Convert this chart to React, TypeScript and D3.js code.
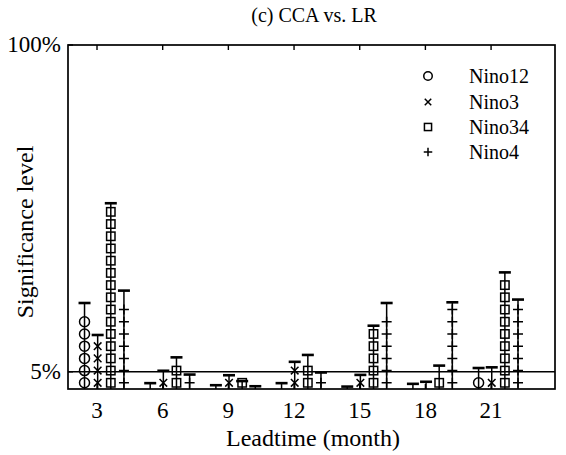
import React from "react";
import * as d3 from "d3";

const leadtimes = [3, 6, 9, 12, 15, 18, 21];
const seriesNames = ["Nino12", "Nino3", "Nino34", "Nino4"];
const seriesShapes = ["circle", "cross", "square", "plus"];
// top of each bar (significance level, %)
const nino12Top = [25, 1.7, 1.1, 1.7, 0.7, 1.5, 6.1];
const nino3Top = [15.7, 5.3, 4.0, 7.9, 4.1, 2.1, 6.3];
const nino34Top = [54, 9.2, 2.3, 9.9, 18.4, 6.8, 33.9];
const nino4Top = [28.6, 4.2, 0.8, 4.8, 25, 25.2, 26];
// number of stacked markers on each bar
const nino12Count = [6, 0, 0, 0, 0, 0, 1];
const nino3Count = [4, 1, 1, 2, 1, 0, 1];
const nino34Count = [15, 2, 1, 2, 5, 1, 9];
const nino4Count = [7, 1, 0, 1, 6, 7, 7];
const seriesOffsets = [-0.57, 0.03, 0.63, 1.23];
const markerStart = 1.8;
const markerStep = 3.55;
const refLevel = 5;
const yTickValues = [5, 100];
const xDomain = [1.675, 23.92];

const tops = [nino12Top, nino3Top, nino34Top, nino4Top];
const counts = [nino12Count, nino3Count, nino34Count, nino4Count];

const W = 566, H = 455;
const L = 68, R = 555, T = 45, B = 389;
const FONT = '"Liberation Serif", "Times New Roman", Tinos, serif';

function Marker({ shape, x, y, sc = 1 }: { shape: string; x: number; y: number; sc?: number }) {
  const sw = 1.5;
  if (shape === "circle") return <circle cx={x} cy={y} r={5 * sc} fill="none" stroke="#000" strokeWidth={sw} />;
  if (shape === "square") {
    const h = 4.2 * sc;
    return <rect x={x - h} y={y - h} width={2 * h} height={2 * h} fill="none" stroke="#000" strokeWidth={sw} />;
  }
  if (shape === "cross") {
    const s = 3.8 * sc;
    return <path d={`M${x - s},${y - s}L${x + s},${y + s}M${x - s},${y + s}L${x + s},${y - s}`} stroke="#000" strokeWidth={sw} />;
  }
  const s = 5 * sc;
  return <path d={`M${x - s},${y}L${x + s},${y}M${x},${y - s}L${x},${y + s}`} stroke="#000" strokeWidth={sw} />;
}

function Txt(props: any) {
  const { children, size, ...rest } = props;
  return (
    <text {...rest} fontFamily={FONT} style={{ fontFamily: FONT, fontSize: `${size}px` }}>
      {children}
    </text>
  );
}

export default function App() {
  const x = d3.scaleLinear().domain(xDomain).range([L, R]);
  const y = d3.scaleLinear().domain([0, 100]).range([B, T]);

  const bars: any[] = [];
  tops.forEach((arr, si) => {
    arr.forEach((v, li) => {
      const cx = x(leadtimes[li] + seriesOffsets[si]);
      const marks = d3.range(counts[si][li]).map((k) => y(markerStart + k * markerStep));
      bars.push(
        <g key={`${si}-${li}`}>
          <line x1={cx} x2={cx} y1={y(0)} y2={y(v)} stroke="#000" strokeWidth={1.5} />
          <line x1={cx - 6} x2={cx + 6} y1={y(v)} y2={y(v)} stroke="#000" strokeWidth={2.6} />
          {marks.map((my, k) => (
            <Marker key={k} shape={seriesShapes[si]} x={cx} y={my} />
          ))}
        </g>
      );
    });
  });

  const legendY = [76, 102, 127, 152];

  return (
    <div style={{ position: "absolute", left: 0, top: 0, width: W, height: H, fontFamily: FONT, background: "#fff" }}>
      <svg width={W} height={H} style={{ display: "block", fontFamily: FONT }} fontFamily={FONT}>
        <rect x={0} y={0} width={W} height={H} fill="#fff" />
        <Txt x={314} y={22} textAnchor="middle" size={20}>(c) CCA vs. LR</Txt>
        {bars}
        <line x1={L} x2={R} y1={y(refLevel)} y2={y(refLevel)} stroke="#000" strokeWidth={1.6} />
        <rect x={L} y={T} width={R - L} height={B - T} fill="none" stroke="#000" strokeWidth={1.7} />
        {leadtimes.map((t) => (
          <g key={t}>
            <line x1={x(t)} x2={x(t)} y1={T} y2={T + 5} stroke="#000" strokeWidth={1.4} />
            <line x1={x(t)} x2={x(t)} y1={B} y2={B - 5} stroke="#000" strokeWidth={1.4} />
            <Txt x={x(t)} y={418} textAnchor="middle" size={23}>{t}</Txt>
          </g>
        ))}
        {yTickValues.map((v) => (
          <g key={v}>
            <line x1={L} x2={L + 5} y1={y(v)} y2={y(v)} stroke="#000" strokeWidth={1.4} />
            <Txt x={L - 7} y={y(v) + 7} textAnchor="end" size={23}>{`${v}%`}</Txt>
          </g>
        ))}
        <Txt x={313} y={446} textAnchor="middle" size={24}>Leadtime (month)</Txt>
        <Txt transform={`translate(33,${(T + B) / 2 + 15}) rotate(-90)`} textAnchor="middle" size={24}>Significance level</Txt>
        {seriesNames.map((n, i) => (
          <g key={n}>
            <Marker shape={seriesShapes[i]} x={428} y={legendY[i]} sc={0.85} />
            <Txt x={469} y={legendY[i] + 7} size={20}>{n}</Txt>
          </g>
        ))}
      </svg>
    </div>
  );
}
